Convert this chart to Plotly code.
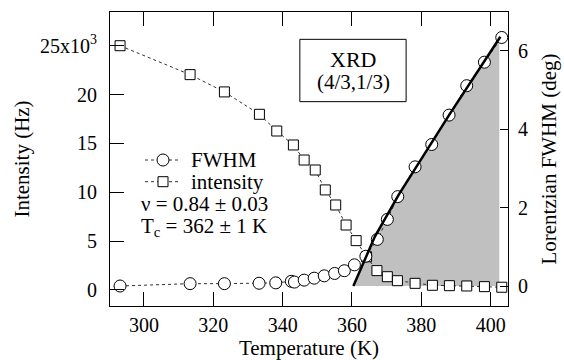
import plotly.graph_objects as go

# ---- data ----
temp_int = [293.1, 313.3, 323.2, 333.3, 338.3, 343.1, 346.2, 349.4, 352.3, 355.3,
            358.3, 361.2, 364.2, 367.2, 370.2, 373.1, 378.2, 383.2, 388.1, 393.1,
            398.2, 403.2]
intensity = [25000, 22040, 20270, 17980, 16270, 14840, 13300, 12280, 10240, 8700,
             6650, 5050, 3400, 1980, 1360, 950, 680, 480, 440, 410, 340, 280]

temp_fwhm = [293.1, 313.3, 323.2, 333.2, 338.0, 342.5, 343.4, 346.2, 349.1, 352.0,
             355.0, 357.8, 360.7, 364.0, 367.3, 370.2, 373.2, 378.2, 383.0, 388.0,
             393.1, 398.2, 403.2]
fwhm = [0.0, 0.06, 0.06, 0.07, 0.08, 0.12, 0.10, 0.15, 0.20, 0.26, 0.32, 0.39,
        0.54, 0.76, 1.19, 1.70, 2.28, 3.04, 3.61, 4.36, 5.11, 5.71, 6.34]

fit_T = [360.4, 366.6, 373.5, 388.0, 402.8]
fit_F = [0.0, 1.26, 2.33, 4.36, 6.36]

shade_T = [360.4, 366.6, 373.5, 388.0, 402.5]
shade_F = [0.0, 1.26, 2.33, 4.36, 6.32]

x_ticks = [300, 320, 340, 360, 380, 400]
left_tickvals = [0, 5000, 10000, 15000, 20000, 25000]
left_ticktext = ["0", "5", "10", "15", "20", "25x10<sup>3</sup>"]
right_tickvals = [0, 2, 4, 6]

legend_labels = ["FWHM", "intensity"]

FONT = "Liberation Serif"

fig = go.Figure()

# shaded area (FWHM axis)
fig.add_trace(go.Scatter(x=shade_T, y=shade_F, mode="lines", fill="tozeroy",
                         fillcolor="#c0c0c0", line=dict(width=0, color="#c0c0c0"),
                         showlegend=False, hoverinfo="skip", yaxis="y"))

# intensity squares (left axis)
fig.add_trace(go.Scatter(x=temp_int, y=intensity, mode="lines+markers", name="intensity",
                         line=dict(color="#333333", width=1, dash="dot"),
                         marker=dict(symbol="square", size=10, color="white",
                                     line=dict(color="black", width=1)),
                         showlegend=False, yaxis="y2"))

# FWHM circles
fig.add_trace(go.Scatter(x=temp_fwhm, y=fwhm, mode="lines+markers", name="FWHM",
                         line=dict(color="#333333", width=1, dash="dot"),
                         marker=dict(symbol="circle", size=12, color="white",
                                     line=dict(color="black", width=1)),
                         showlegend=False, yaxis="y3"))

# power-law fit line
fig.add_trace(go.Scatter(x=fit_T, y=fit_F, mode="lines", line=dict(color="black", width=2.5),
                         showlegend=False, hoverinfo="skip", yaxis="y3"))

# ---- hand-made legend (paper coordinates) ----
def px_x(p):
    return (p - 110) / 398.0

def px_y(p):
    return (306 - p) / 294.0

leg_y = [160, 181.7]
shapes = [dict(type="rect", xref="paper", yref="paper", x0=0.477, x1=0.744,
               y0=0.695, y1=0.907, line=dict(color="black", width=1),
               fillcolor="white")]
for yy in leg_y:
    shapes.append(dict(type="line", xref="paper", yref="paper",
                       x0=px_x(145), x1=px_x(181), y0=px_y(yy), y1=px_y(yy),
                       line=dict(color="#333333", width=1, dash="dot")))
shapes.append(dict(type="circle", xref="paper", yref="paper",
                   x0=px_x(157), x1=px_x(169), y0=px_y(leg_y[0] + 6), y1=px_y(leg_y[0] - 6),
                   line=dict(color="black", width=1), fillcolor="white"))
shapes.append(dict(type="rect", xref="paper", yref="paper",
                   x0=px_x(158), x1=px_x(168), y0=px_y(leg_y[1] + 5), y1=px_y(leg_y[1] - 5),
                   line=dict(color="black", width=1), fillcolor="white"))

annotations = [
    dict(text="XRD", xref="paper", yref="paper", x=px_x(353), y=px_y(59.5),
         xanchor="center", yanchor="middle", showarrow=False, font=dict(size=22)),
    dict(text="(4/3,1/3)", xref="paper", yref="paper", x=px_x(353), y=px_y(82),
         xanchor="center", yanchor="middle", showarrow=False, font=dict(size=21)),
    dict(text="ν = 0.84 ± 0.03", xref="paper", yref="paper", x=px_x(139), y=px_y(204),
         xanchor="left", yanchor="middle", showarrow=False, font=dict(size=21)),
    dict(text="T<sub>c</sub> = 362 ± 1 K", xref="paper", yref="paper", x=px_x(139),
         y=px_y(227), xanchor="left", yanchor="middle", showarrow=False,
         font=dict(size=21)),
]
for yy, lab in zip(leg_y, legend_labels):
    annotations.append(dict(text=lab, xref="paper", yref="paper", x=px_x(189), y=px_y(yy),
                            xanchor="left", yanchor="middle", showarrow=False,
                            font=dict(size=21)))

fig.update_layout(
    width=564, height=360,
    margin=dict(l=110, r=56, t=12, b=54, autoexpand=False),
    paper_bgcolor="white", plot_bgcolor="white",
    font=dict(family=FONT, size=20, color="black"),
    showlegend=False,
    xaxis=dict(range=[290.2, 405], tickvals=x_ticks, ticks="inside", ticklen=14,
               tickcolor="black", showline=True, linecolor="black", linewidth=1,
               mirror="ticks", showgrid=False, zeroline=False, ticklabelstandoff=1,
               automargin=False,
               title=dict(text="Temperature (K)", font=dict(size=21), standoff=5)),
    yaxis=dict(range=[-0.51, 6.99], side="right", tickvals=right_tickvals,
               ticks="inside", ticklen=8, tickcolor="black", showline=True,
               linecolor="black", linewidth=1, showgrid=False, zeroline=False,
               ticklabelstandoff=5, automargin=False,
               title=dict(text="Lorentzian FWHM (deg)", font=dict(size=21), standoff=14)),
    yaxis2=dict(range=[-1640, 28450], overlaying="y", side="left",
                tickvals=left_tickvals, ticktext=left_ticktext, ticks="inside",
                ticklen=14, tickcolor="black", showline=True, linecolor="black",
                linewidth=1, showgrid=False, zeroline=False, ticklabelstandoff=8,
                automargin=False,
                title=dict(text="Intensity (Hz)", font=dict(size=21), standoff=4)),
    yaxis3=dict(range=[-0.51, 6.99], overlaying="y", visible=False, automargin=False),
    shapes=shapes,
    annotations=annotations,
)

fig.write_html("out.html")
